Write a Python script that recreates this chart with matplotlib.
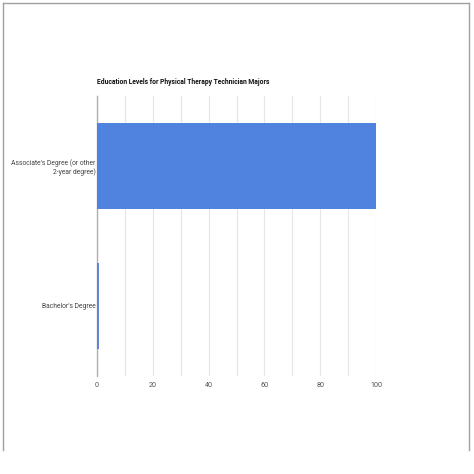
import matplotlib
matplotlib.use("Agg")
import matplotlib.pyplot as plt
from matplotlib.lines import Line2D

categories = ["Associate's Degree (or other\n2-year degree)", "Bachelor's Degree"]
values = [100, 0.6]
bar_colors = ["#5083e0", "#5f86d4"]
xticks = [0, 20, 40, 60, 80, 100]
title = "Education Levels for Physical Therapy Technician Majors"

plt.rcParams['font.family'] = ['Roboto', 'DejaVu Sans']

fig = plt.figure(figsize=(4.74, 4.74), dpi=100)
fig.patch.set_facecolor("white")

# outer frame (top, left, right)
W, H = 474.0, 474.0
frame = dict(color="#a0a0a0", lw=1.0, transform=fig.transFigure)
fig.add_artist(Line2D([3/W, 469/W], [1-3/H, 1-3/H], **frame))
fig.add_artist(Line2D([3/W, 3/W], [1-3/H, 1-450/H], **frame))
fig.add_artist(Line2D([469/W, 469/W], [1-3/H, 1-450/H], **frame))

ax = fig.add_axes([97/W, 1-376/H, 279/W, 280/H])
ypos = [0, 1]
ax.barh(ypos, values, height=0.62, color=bar_colors, zorder=3)
ax.set_ylim(1.5, -0.5)
ax.set_xlim(0, 100)
ax.set_yticks(ypos)
ax.set_yticklabels(categories, fontsize=4.85, color="#444444", linespacing=1.25)
ax.set_xticks(xticks)
ax.set_xticklabels([str(t) for t in xticks], fontsize=5.2, color="#555555")
ax.set_xticks(range(0, 101, 10), minor=True)
ax.tick_params(length=0, which="both")
ax.tick_params(axis="x", pad=4)
ax.tick_params(axis="y", pad=1)
ax.grid(axis="x", which="both", color="#e6e6e6", lw=0.8, zorder=0)
for s in ["top", "right", "bottom"]:
    ax.spines[s].set_visible(False)
ax.spines["left"].set_color("#b0b0b0")
ax.spines["left"].set_linewidth(1.0)
ax.spines["left"].set_zorder(2)

fig.text(97/W, 1-82/H, title, fontsize=4.9, fontweight="bold", color="#111111",
         ha="left", va="center")

fig.savefig("out.png", dpi=100)
